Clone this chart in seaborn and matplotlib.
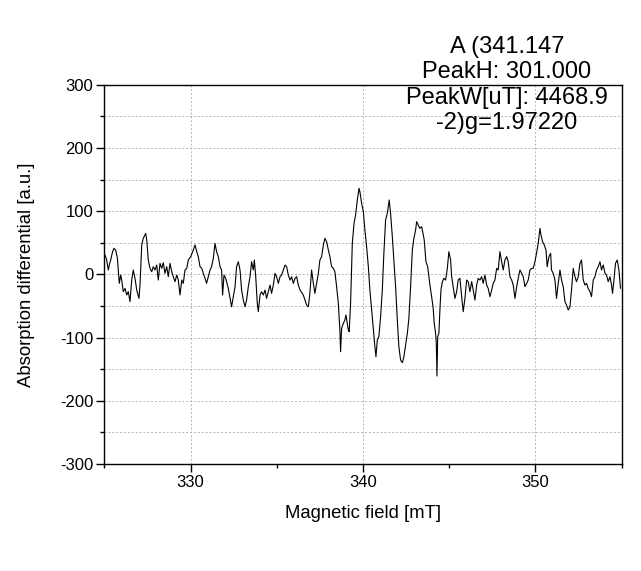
import matplotlib
matplotlib.use("Agg")
import matplotlib.pyplot as plt
import pandas as pd
import seaborn as sns
from matplotlib.ticker import MultipleLocator

# ---- data (field in mT, signal in a.u.) ----
field_left = [325.04, 325.14, 325.23, 325.29, 325.37, 325.48, 325.56, 325.66, 325.76, 325.81,
              325.87, 325.95, 326.01, 326.10, 326.20, 326.30, 326.39, 326.49, 326.59, 326.68,
              326.78, 326.88, 327.01, 327.07, 327.17, 327.26, 327.40, 327.46, 327.55, 327.65,
              327.75, 327.84, 327.94, 328.04, 328.13, 328.23, 328.33, 328.42, 328.52, 328.62,
              328.71, 328.81, 328.91, 329.00, 329.10, 329.20, 329.29, 329.39, 329.49, 329.58,
              329.68, 329.78, 329.87, 330.01, 330.16, 330.26, 330.36, 330.45, 330.55, 330.65,
              330.74, 330.84, 330.93, 331.03, 331.13, 331.22, 331.32, 331.42, 331.51, 331.61,
              331.71, 331.80, 331.86, 331.94, 332.04, 332.19, 332.29, 332.38, 332.48, 332.58,
              332.67, 332.77, 332.87, 332.96, 333.06, 333.16, 333.25, 333.35, 333.45, 333.54,
              333.64, 333.70, 333.78, 333.87, 333.93, 334.03, 334.12, 334.22, 334.32, 334.41,
              334.51, 334.61, 334.70, 334.80, 334.90, 334.99, 335.09, 335.19, 335.28, 335.38,
              335.48, 335.57, 335.67, 335.77, 335.86, 335.96, 336.06, 336.15, 336.25]
signal_left = [30.6, 22.7, 6.9, 14.8, 22.7, 35.9, 41.1, 38.5, 25.3, 6.9,
               -14.2, -1.1, -9.0, -27.4, -22.2, -32.7, -27.4, -43.2, -9.0, 6.9,
               -6.3, -24.8, -38.0, -16.9, 46.4, 57.0, 64.9, 54.3, 22.7, 9.5,
               4.2, 12.1, 6.9, 14.8, -9.0, 17.4, 9.5, 18.5, 1.6, 12.1,
               -3.7, 17.4, 4.2, -3.7, -11.6, -1.1, -9.0, -32.7, -9.0, -14.2,
               6.9, 9.5, 22.7, 28.0, 38.5, 46.4, 35.9, 28.0, 12.1, 9.5,
               1.6, -6.3, -14.2, -3.7, 6.9, 12.1, 25.3, 49.0, 35.9, 28.0,
               12.1, 6.9, -32.7, -1.1, -6.3, -22.2, -38.0, -51.2, -35.3, -19.5,
               12.1, 20.0, 6.9, -24.8, -40.6, -51.2, -40.6, -19.5, -3.7, 20.0,
               6.9, 22.7, -3.7, -45.9, -59.1, -32.7, -27.4, -32.7, -24.8, -38.0,
               -27.4, -16.9, -30.1, -16.9, 1.6, -3.7, -14.2, -3.7, -1.1, 6.9,
               14.8, 12.1, -1.1, -9.0, -3.7, -14.2, -6.3, -3.7, -16.9]

field_center = [336.35, 336.54, 336.73, 336.83, 336.92, 337.02, 337.12, 337.21, 337.31, 337.41,
                337.50, 337.60, 337.70, 337.79, 337.89, 337.99, 338.08, 338.18, 338.28, 338.37,
                338.47, 338.57, 338.66, 338.70, 338.76, 338.86, 338.95, 339.01, 339.09, 339.15,
                339.20, 339.28, 339.38, 339.48, 339.57, 339.67, 339.77, 339.82, 339.92, 340.02,
                340.11, 340.21, 340.31, 340.40, 340.50, 340.60, 340.69, 340.75, 340.83, 340.92,
                341.02, 341.12, 341.21, 341.31, 341.41, 341.52, 341.60, 341.70, 341.79, 341.89,
                341.99, 342.08, 342.18, 342.28, 342.37, 342.47, 342.57, 342.66, 342.76, 342.86,
                342.95, 343.05, 343.11, 343.20, 343.30, 343.40, 343.46, 343.55, 343.65, 343.75,
                343.88, 343.98, 344.07, 344.13, 344.21, 344.25, 344.29, 344.33, 344.40, 344.46]
signal_center = [-24.8, -32.7, -48.5, -51.2, -30.1, 6.9, -14.2, -30.1, -14.2, 1.6,
                 22.7, 28.0, 46.4, 57.0, 51.7, 38.5, 28.0, 12.1, 9.5, 4.2,
                 -19.5, -45.9, -88.1, -122.4, -85.4, -77.5, -72.3, -64.3, -77.5, -88.1,
                 -90.7, -45.9, 49.0, 80.7, 93.9, 117.6, 136.1, 130.8, 112.3, 99.2,
                 70.1, 43.8, 12.1, -24.8, -56.4, -88.1, -114.4, -130.3, -103.9, -98.6,
                 -67.0, -24.8, 33.2, 86.0, 96.5, 117.6, 96.5, 59.6, 22.7, -19.5,
                 -72.3, -114.4, -135.5, -139.8, -130.3, -111.8, -93.4, -69.6, -19.5, 38.5,
                 57.0, 70.1, 83.3, 78.1, 72.8, 75.4, 67.5, 54.3, 20.0, 12.1,
                 -16.9, -35.3, -53.8, -77.5, -93.4, -109.2, -160.8, -98.6, -93.4, -56.4]

field_right = [344.52, 344.60, 344.69, 344.79, 344.89, 344.98, 345.08, 345.14, 345.23, 345.33,
               345.43, 345.52, 345.62, 345.72, 345.81, 345.91, 346.01, 346.10, 346.20, 346.30,
               346.39, 346.49, 346.59, 346.68, 346.78, 346.88, 346.97, 347.07, 347.17, 347.26,
               347.36, 347.46, 347.55, 347.65, 347.75, 347.84, 347.94, 348.04, 348.13, 348.23,
               348.33, 348.42, 348.52, 348.62, 348.71, 348.81, 348.91, 349.00, 349.10, 349.20,
               349.29, 349.39, 349.49, 349.58, 349.68, 349.78, 349.87, 349.97, 350.06, 350.16,
               350.26, 350.32, 350.41, 350.51, 350.61, 350.68, 350.78, 350.88, 350.93, 351.03,
               351.13, 351.22, 351.32, 351.42, 351.51, 351.61, 351.71, 351.80, 351.90, 352.00,
               352.09, 352.19, 352.29, 352.38, 352.48, 352.58, 352.67, 352.77, 352.87, 352.96,
               353.06, 353.16, 353.25, 353.35, 353.45, 353.54, 353.64, 353.74, 353.83, 353.93,
               354.03, 354.12, 354.22, 354.32, 354.41, 354.47, 354.55, 354.64, 354.74, 354.84,
               354.93]
signal_right = [-24.8, -11.6, -6.3, -9.0, 9.5, 35.9, 22.7, -3.7, -19.5, -38.0,
                -27.4, -9.0, -6.3, -35.3, -59.1, -38.0, -9.0, -11.6, -27.4, -11.6,
                -24.8, -40.6, -16.9, -6.3, -9.0, -3.7, -14.2, -1.1, -16.9, -22.2,
                -35.3, -24.8, -14.2, -9.0, 9.5, 6.9, 35.9, 20.0, 6.9, 22.7,
                28.0, 20.0, -3.7, -9.0, -16.9, -38.0, -19.5, -6.3, 6.9, 1.6,
                -3.7, -19.5, -14.2, -9.0, 6.9, 9.5, 9.5, 20.0, 33.2, 49.0,
                72.8, 62.2, 51.7, 46.4, 38.5, 12.1, 28.0, 33.2, 6.9, 1.6,
                -9.0, -38.0, -14.2, 6.9, -9.0, -19.5, -43.2, -48.5, -56.4, -51.2,
                -24.8, 9.5, -3.7, -11.6, -3.7, 17.4, 22.7, -9.0, -16.9, -14.2,
                -22.2, -27.4, -35.3, -9.0, -3.7, 6.9, 12.1, 20.0, 6.9, 14.8,
                1.6, -1.1, -11.6, -3.7, -16.9, -30.1, -9.0, 17.4, 22.7, 6.9,
                -22.2]

x_ticks = [330, 340, 350]
y_ticks = [-300, -200, -100, 0, 100, 200, 300]
x_label = "Magnetic field [mT]"
y_label = "Absorption differential [a.u.]"
annotation_lines = ["A (341.147", "PeakH: 301.000", "PeakW[uT]: 4468.9", "-2)g=1.97220"]

# ---- figure ----
sns.set_style("ticks")
plt.rcParams["font.family"] = ["Liberation Sans", "DejaVu Sans"]
plt.rcParams["text.color"] = "black"
plt.rcParams["axes.labelcolor"] = "black"
plt.rcParams["xtick.color"] = "black"
plt.rcParams["ytick.color"] = "black"

df = pd.DataFrame({
    "field": field_left + field_center + field_right,
    "signal": signal_left + signal_center + signal_right,
})

W, H = 641, 571
fig = plt.figure(figsize=(W / 100, H / 100), dpi=100)
L, R, T, B = 104.3, 621.7, 84.7, 464.0
ax = fig.add_axes([L / W, 1 - B / H, (R - L) / W, (B - T) / H])

sns.lineplot(data=df, x="field", y="signal", ax=ax, color="black",
             linewidth=0.8, estimator=None, sort=False)

ax.set_xlim(325, 355)
ax.set_ylim(-300, 300)
ax.set_xticks(x_ticks)
ax.set_xticklabels([str(v) for v in x_ticks])
ax.xaxis.set_minor_locator(MultipleLocator(5))
ax.set_yticks(y_ticks)
ax.set_yticklabels([str(v) for v in y_ticks])
ax.yaxis.set_minor_locator(MultipleLocator(50))

grid_kw = dict(color="#b4b4b4", linestyle=(0, (2, 2)), linewidth=0.7)
ax.xaxis.grid(True, which="major", **grid_kw)
ax.yaxis.grid(True, which="both", **grid_kw)
ax.set_axisbelow(True)

ax.tick_params(axis="both", which="major", direction="out", length=6, width=1,
               labelsize=12, pad=2, colors="black")
ax.tick_params(axis="both", which="minor", direction="out", length=3, width=1,
               colors="black")
for s in ax.spines.values():
    s.set_visible(True)
    s.set_linewidth(1.0)
    s.set_color("black")

ax.set_xlabel(x_label, fontsize=13.3, labelpad=11)
ax.set_ylabel(y_label, fontsize=13.3, labelpad=18)

fig.text(507 / W, 1 - 36 / H, "\n".join(annotation_lines), ha="center", va="top",
         fontsize=17, linespacing=1.2, multialignment="center", zorder=5)

fig.savefig("out.png", dpi=100)
